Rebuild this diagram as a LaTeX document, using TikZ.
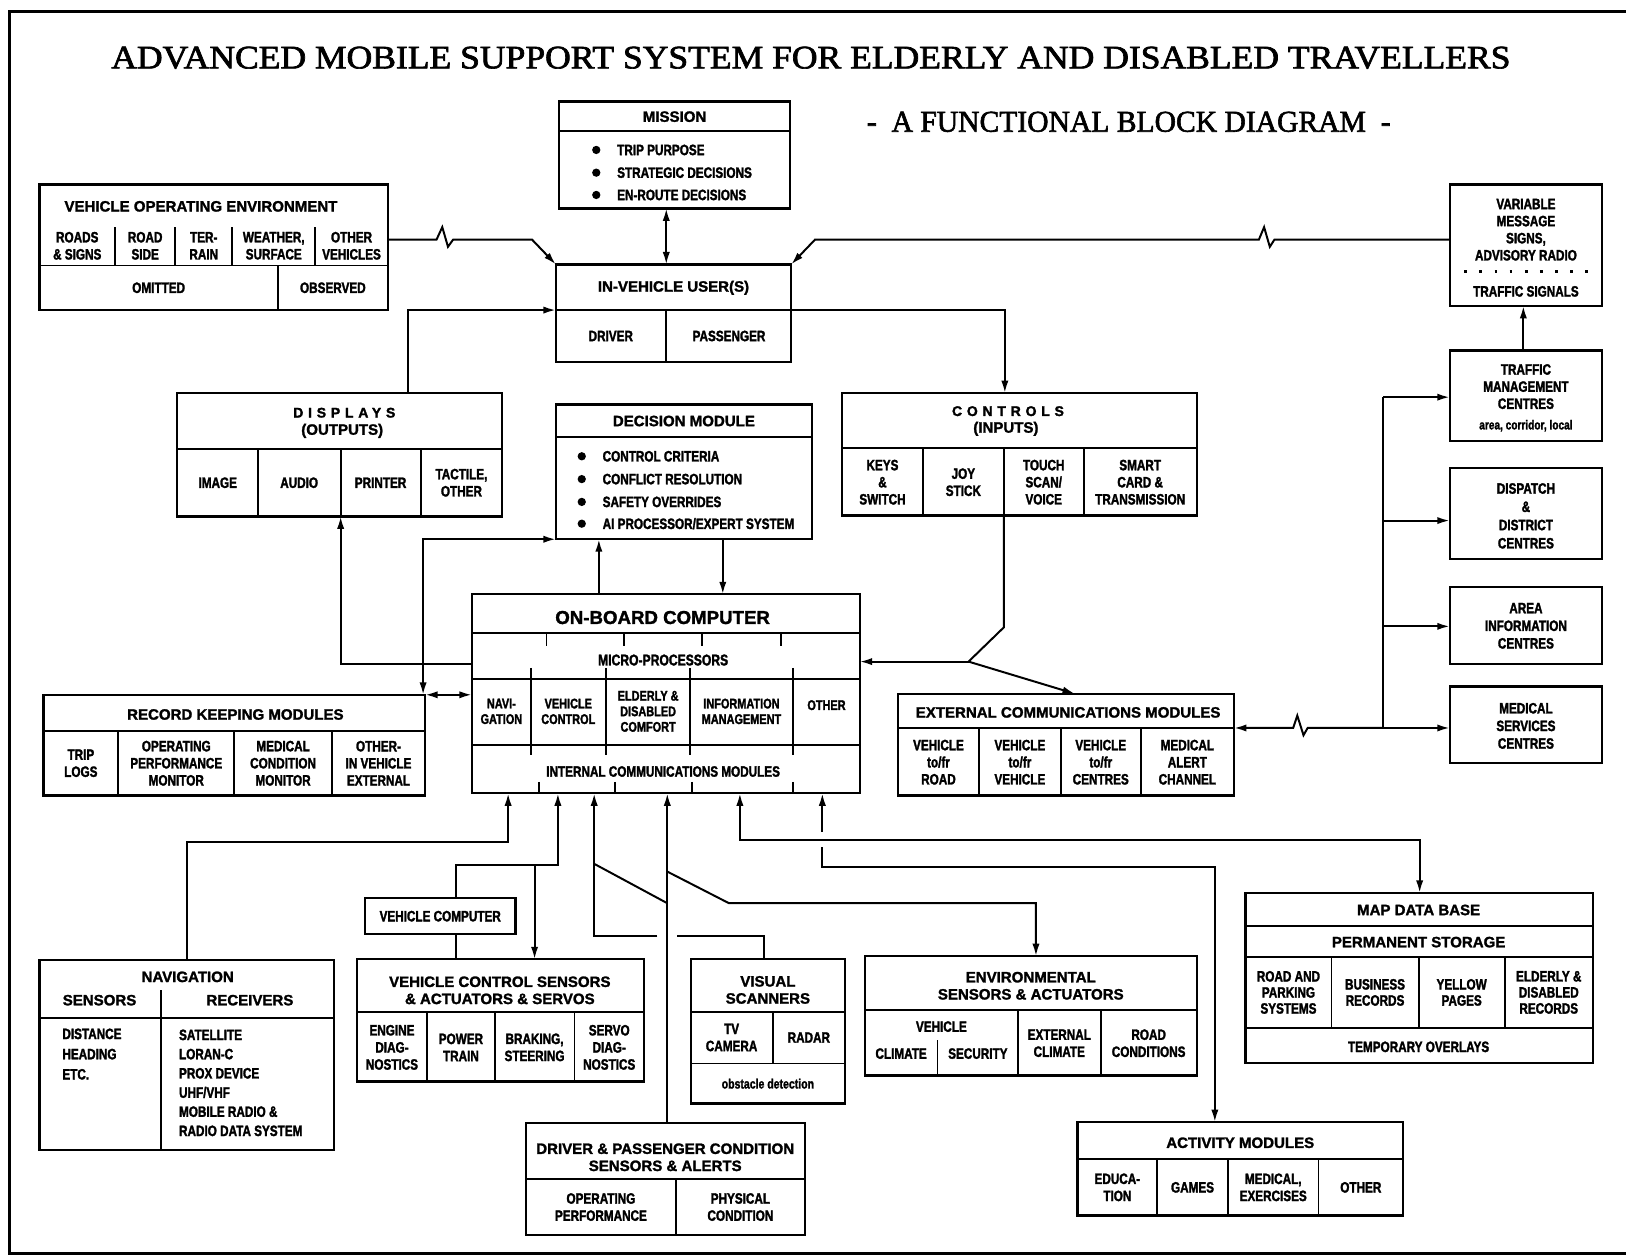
\documentclass[tikz,border=0pt]{standalone}
\usepackage{graphicx}
\usepackage{fontspec}
\setmainfont{Liberation Sans}
\newfontfamily\hf{Liberation Sans}[BoldFeatures={FakeBold=1.6}]
\newfontfamily\cf{Liberation Sans}[FakeStretch=0.78, BoldFeatures={FakeBold=1.8}]
\newfontfamily\lsf{Liberation Sans}[LetterSpace=34, BoldFeatures={FakeBold=1.8}]
\newfontfamily\ttl{Liberation Serif}[FakeBold=2]
\usetikzlibrary{arrows.meta,fit}
\tikzset{
 bx/.style={draw, line width=2.2pt, inner sep=0pt, outer sep=0pt},
 dv/.style={line width=1.8pt},
 ln/.style={line width=1.9pt},
 ar/.style={ln, -{Latex[length=12pt,width=7pt]}},
 dar/.style={ln, {Latex[length=12pt,width=7pt]}-{Latex[length=12pt,width=7pt]}},
 hd/.style={font=\hf\bfseries\fontsize{14.5}{16.5}\selectfont, align=center, inner sep=0pt},
 ct/.style={font=\cf\bfseries\fontsize{14.5}{16.5}\selectfont, align=center, inner sep=0pt},
 lt/.style={ct, anchor=west, align=left},
 ls/.style={font=\lsf\bfseries\fontsize{13.5}{16}\selectfont, inner sep=0pt},
 bul/.style={circle, fill, inner sep=0pt, minimum size=8pt},
}
\begin{document}
\begin{tikzpicture}[x=1pt,y=-1pt]
\useasboundingbox (0,0) rectangle (1568,1213);
\fill[white] (0,0) rectangle (1568,1213);
\draw[line width=2.5pt] (1568,11) -- (9,11) -- (9,1209) -- (1568,1209);

% titles
\node[inner sep=0pt, anchor=base] (title) at (782,65.9) {\resizebox{1349pt}{20.9pt}{\ttl ADVANCED MOBILE SUPPORT SYSTEM FOR ELDERLY AND DISABLED TRAVELLERS}};
\node[inner sep=0pt, anchor=base] (subtitle) at (1088.5,127) {\resizebox{505pt}{19.3pt}{\ttl -\ \ A FUNCTIONAL BLOCK DIAGRAM\ \ -}};

% MISSION
\node[bx, fit={(539,98) (762,201)}] (mission) {};
\draw[dv] (539,126) -- (762,126);
\node[hd] (missiont) at (650.5,112.5) {MISSION};
\node[bul] (mb1) at (575,144.6) {};
\node[bul] (mb2) at (575,166.5) {};
\node[bul] (mb3) at (575,188) {};
\node[lt] (mt1) at (595,144.6) {TRIP PURPOSE};
\node[lt] (mt2) at (595,166.5) {STRATEGIC DECISIONS};
\node[lt] (mt3) at (595,188) {EN-ROUTE DECISIONS};

% VEHICLE OPERATING ENVIRONMENT
\node[bx, fit={(38,178) (374,299)}] (voe) {};
\foreach \x in {111,169,224,304} \draw[dv] (\x,219) -- (\x,256);
\draw[dv] (38,256) -- (374,256);
\draw[dv] (268,256) -- (268,299);
\node[hd, anchor=west] (voet) at (62,199) {VEHICLE OPERATING ENVIRONMENT};
\node[ct] (voe1) at (74.5,237) {ROADS\\\& SIGNS};
\node[ct] (voe2) at (140,237) {ROAD\\SIDE};
\node[ct] (voe3) at (196.5,237) {TER-\\RAIN};
\node[ct] (voe4) at (264,237) {WEATHER,\\SURFACE};
\node[ct] (voe5) at (339,237) {OTHER\\VEHICLES};
\node[ct] (voe6) at (153,277.5) {OMITTED};
\node[ct] (voe7) at (321,277.5) {OBSERVED};

% IN-VEHICLE USERS
\node[bx, fit={(536,255) (763,349)}] (ivu) {};
\draw[dv] (536,299) -- (763,299);
\coordinate (ivud) at (642.5,299);
\draw[dv] (ivud) -- (642.5,349);
\node[hd] (ivut) at (649.5,277.5) {IN-VEHICLE USER(S)};
\node[ct] (ivu1) at (589,324) {DRIVER};
\node[ct] (ivu2) at (703,324) {PASSENGER};

% right column boxes
\node[bx, fit={(1398,178) (1545,295)}] (vms) {};
\node[ct] (vmst) at (1471.5,221.5) {VARIABLE\\MESSAGE\\SIGNS,\\ADVISORY RADIO};
\draw[line width=2.6pt, dash pattern=on 2.6pt off 12pt] (1412,262) -- (1535,262);
\node[ct] (vmst2) at (1471.5,281) {TRAFFIC SIGNALS};

\node[bx, fit={(1398,338) (1545,425)}] (tmc) {};
\node[ct] (tmct) at (1471.5,372.8) {TRAFFIC\\MANAGEMENT\\CENTRES};
\node[ct, font=\cf\bfseries\fontsize{12.5}{14}\selectfont] (tmct2) at (1471.5,410.5) {area, corridor, local};

\node[bx, fit={(1398,451) (1545,539)}] (dispatch) {};
\node[ct, font=\cf\bfseries\fontsize{14.5}{17.6}\selectfont] (dispt) at (1471.5,497.5) {DISPATCH\\\&\\DISTRICT\\CENTRES};

\node[bx, fit={(1398,566) (1545,640)}] (area) {};
\node[ct, font=\cf\bfseries\fontsize{14.5}{17}\selectfont] (areat) at (1471.5,603.5) {AREA\\INFORMATION\\CENTRES};

\node[bx, fit={(1398,662) (1545,736)}] (medical) {};
\node[ct, font=\cf\bfseries\fontsize{14.5}{17}\selectfont] (medt) at (1471.5,700) {MEDICAL\\SERVICES\\CENTRES};

% DISPLAYS
\node[bx, fit={(171,379) (484,498)}] (displays) {};
\draw[dv] (171,433) -- (484,433);
\foreach \x in {248.5,328.5,406} \draw[dv] (\x,433) -- (\x,498);
\node[ls] (dispt1) at (332,398) {DISPLAYS};
\node[hd] (dispt2) at (330,415.5) {(OUTPUTS)};
\node[ct] (disp1) at (210,465.5) {IMAGE};
\node[ct] (disp2) at (288.5,465.5) {AUDIO};
\node[ct] (disp3) at (367,465.5) {PRINTER};
\node[ct] (disp4) at (445,465.5) {TACTILE,\\OTHER};

% DECISION MODULE
\node[bx, fit={(536,390) (783,520)}] (decision) {};
\draw[dv] (536,421) -- (783,421);
\node[hd] (dect) at (659.5,406) {DECISION MODULE};
\node[bul] (db1) at (561,440) {};
\node[bul] (db2) at (561,462) {};
\node[bul] (db3) at (561,484) {};
\node[bul] (db4) at (561,505) {};
\node[lt] (dt1) at (581,440) {CONTROL CRITERIA};
\node[lt] (dt2) at (581,462) {CONFLICT RESOLUTION};
\node[lt] (dt3) at (581,484) {SAFETY OVERRIDES};
\node[lt] (dt4) at (581,505) {AI PROCESSOR/EXPERT SYSTEM};

% CONTROLS
\node[bx, fit={(812,379) (1154,497)}] (controls) {};
\draw[dv] (812,432) -- (1154,432);
\foreach \x in {890,968,1045} \draw[dv] (\x,432) -- (\x,497);
\node[ls] (ctlt1) at (972,396.5) {CONTROLS};
\node[hd] (ctlt2) at (970,413.5) {(INPUTS)};
\node[ct] (ctl1) at (851,465) {KEYS\\\&\\SWITCH};
\node[ct] (ctl2) at (929,465) {JOY\\STICK};
\node[ct] (ctl3) at (1006.5,465) {TOUCH\\SCAN/\\VOICE};
\node[ct] (ctl4) at (1099.5,465) {SMART\\CARD \&\\TRANSMISSION};

% ON-BOARD COMPUTER
\node[bx, fit={(455,573) (829,765)}] (obc) {};
\draw[dv] (455,610.5) -- (829,610.5);
\draw[dv] (455,654.5) -- (829,654.5);
\draw[dv] (455,718) -- (829,718);
\foreach \x in {512,584,665.5,765} \draw[dv] (\x,644) -- (\x,728);
\foreach \x in {527,602,677,753} \draw[dv] (\x,610.5) -- (\x,623);
\foreach \x in {520,593,667,765} \draw[dv] (\x,754) -- (\x,765);
\node[hd, font=\hf\bfseries\fontsize{18}{20}\selectfont] (obct) at (639,595.5) {ON-BOARD COMPUTER};
\node[ct, font=\cf\bfseries\fontsize{15}{16}\selectfont] (obcm) at (639.5,636.5) {MICRO-PROCESSORS};
\node[ct, font=\cf\bfseries\fontsize{13.5}{15}\selectfont] (obc1) at (483.5,686) {NAVI-\\GATION};
\node[ct, font=\cf\bfseries\fontsize{13.5}{15}\selectfont] (obc2) at (548,686) {VEHICLE\\CONTROL};
\node[ct, font=\cf\bfseries\fontsize{13.5}{15}\selectfont] (obc3) at (625,686) {ELDERLY \&\\DISABLED\\COMFORT};
\node[ct, font=\cf\bfseries\fontsize{13.5}{15}\selectfont] (obc4) at (715,686) {INFORMATION\\MANAGEMENT};
\node[ct, font=\cf\bfseries\fontsize{13.5}{15}\selectfont] (obc5) at (797,680) {OTHER};
\node[ct] (obci) at (639.5,744) {INTERNAL COMMUNICATIONS MODULES};

% RECORD KEEPING MODULES
\node[bx, fit={(42,670) (410,767)}] (rkm) {};
\draw[dv] (42,705) -- (410,705);
\foreach \x in {114,226,320} \draw[dv] (\x,705) -- (\x,767);
\node[hd] (rkmt) at (227,689) {RECORD KEEPING MODULES};
\node[ct] (rkm1) at (78,736) {TRIP\\LOGS};
\node[ct] (rkm2) at (170,736) {OPERATING\\PERFORMANCE\\MONITOR};
\node[ct] (rkm3) at (273,736) {MEDICAL\\CONDITION\\MONITOR};
\node[ct] (rkm4) at (365,736) {OTHER-\\IN VEHICLE\\EXTERNAL};

% EXTERNAL COMMUNICATIONS MODULES
\node[bx, fit={(866,669) (1190,767)}] (extcomm) {};
\draw[dv] (866,702) -- (1190,702);
\foreach \x in {944,1023,1100} \draw[dv] (\x,702) -- (\x,767);
\node[hd] (ecmt) at (1030,687) {EXTERNAL COMMUNICATIONS MODULES};
\node[ct] (ecm1) at (905,735) {VEHICLE\\to/fr\\ROAD};
\node[ct] (ecm2) at (983.5,735) {VEHICLE\\to/fr\\VEHICLE};
\node[ct] (ecm3) at (1061.5,735) {VEHICLE\\to/fr\\CENTRES};
\node[ct] (ecm4) at (1145,735) {MEDICAL\\ALERT\\CHANNEL};

% VEHICLE COMPUTER
\node[bx, fit={(352,866) (497,901)}] (vc) {};
\node[ct] (vct) at (424.5,883.5) {VEHICLE COMPUTER};

% VEHICLE CONTROL SENSORS
\node[bx, fit={(344,925) (621,1043)}] (vcs) {};
\draw[dv] (344,976) -- (621,976);
\foreach \x in {412,477,554} \draw[dv] (\x,976) -- (\x,1043);
\node[hd] (vcst) at (482,955) {VEHICLE CONTROL SENSORS\\\& ACTUATORS \& SERVOS};
\node[ct] (vcs1) at (378,1010) {ENGINE\\DIAG-\\NOSTICS};
\node[ct] (vcs2) at (444.5,1010) {POWER\\TRAIN};
\node[ct] (vcs3) at (515.5,1010) {BRAKING,\\STEERING};
\node[ct] (vcs4) at (587.5,1010) {SERVO\\DIAG-\\NOSTICS};

% VISUAL SCANNERS
\node[bx, fit={(666,925) (815,1064)}] (visual) {};
\draw[dv] (666,976) -- (815,976);
\draw[dv] (666,1025.5) -- (815,1025.5);
\draw[dv] (745,976) -- (745,1025.5);
\node[hd] (vist) at (740.5,954.6) {VISUAL\\SCANNERS};
\node[ct] (vis1) at (705.5,1000.5) {TV\\CAMERA};
\node[ct] (vis2) at (780,1000.5) {RADAR};
\node[ct, font=\cf\bfseries\fontsize{13}{15}\selectfont] (vis3) at (740.5,1045) {obstacle detection};

% NAVIGATION
\node[bx, fit={(38,926) (322,1109)}] (nav) {};
\draw[dv] (38,982) -- (322,982);
\draw[dv] (155,955) -- (155,1109);
\node[hd] (navt) at (181,942) {NAVIGATION};
\node[hd] (navs) at (96,964.5) {SENSORS};
\node[hd] (navr) at (241,964.5) {RECEIVERS};
\node[lt] (nl1) at (60,997) {DISTANCE};
\node[lt] (nl2) at (60,1016.5) {HEADING};
\node[lt] (nl3) at (60,1036) {ETC.};
\node[lt] (nr1) at (172.5,998) {SATELLITE};
\node[lt] (nr2) at (172.5,1016.5) {LORAN-C};
\node[lt] (nr3) at (172.5,1035) {PROX DEVICE};
\node[lt] (nr4) at (172.5,1053.5) {UHF/VHF};
\node[lt] (nr5) at (172.5,1072) {MOBILE RADIO \&};
\node[lt] (nr6) at (172.5,1090.5) {RADIO DATA SYSTEM};

% DRIVER & PASSENGER CONDITION
\node[bx, fit={(507,1083) (776,1191)}] (driver) {};
\draw[dv] (507,1137) -- (776,1137);
\draw[dv] (652,1137) -- (652,1191);
\node[hd] (drvt) at (641.5,1116) {DRIVER \& PASSENGER CONDITION\\SENSORS \& ALERTS};
\node[ct] (drv1) at (579.5,1164) {OPERATING\\PERFORMANCE};
\node[ct] (drv2) at (714,1164) {PHYSICAL\\CONDITION};

% ENVIRONMENTAL
\node[bx, fit={(834,922) (1154,1037)}] (env) {};
\draw[dv] (834,974) -- (1154,974);
\foreach \x in {981.5,1061.4} \draw[dv] (\x,974) -- (\x,1037);
\draw[dv] (904,1003) -- (904,1037);
\node[hd] (envt) at (994,950.6) {ENVIRONMENTAL\\SENSORS \& ACTUATORS};
\node[ct] (envv) at (907.8,990) {VEHICLE};
\node[ct] (env1) at (869,1016) {CLIMATE};
\node[ct] (env2) at (943,1016) {SECURITY};
\node[ct] (env3) at (1021.5,1006) {EXTERNAL\\CLIMATE};
\node[ct] (env4) at (1107.7,1006) {ROAD\\CONDITIONS};

% MAP DATA BASE
\node[bx, fit={(1201,861) (1536,1025)}] (map) {};
\draw[dv] (1201,893) -- (1536,893);
\draw[dv] (1201,922.5) -- (1536,922.5);
\draw[dv] (1201,991.6) -- (1536,991.6);
\foreach \x in {1284,1368,1451} \draw[dv] (\x,922.5) -- (\x,991.6);
\node[hd] (mapt) at (1368,877.5) {MAP DATA BASE};
\node[hd] (maps) at (1368,908.5) {PERMANENT STORAGE};
\node[ct, font=\cf\bfseries\fontsize{14.5}{15.5}\selectfont] (map1) at (1242.5,957) {ROAD AND\\PARKING\\SYSTEMS};
\node[ct, font=\cf\bfseries\fontsize{14.5}{15.5}\selectfont] (map2) at (1326,957) {BUSINESS\\RECORDS};
\node[ct, font=\cf\bfseries\fontsize{14.5}{15.5}\selectfont] (map3) at (1409.5,957) {YELLOW\\PAGES};
\node[ct, font=\cf\bfseries\fontsize{14.5}{15.5}\selectfont] (map4) at (1493.5,957) {ELDERLY \&\\DISABLED\\RECORDS};
\node[ct] (mapo) at (1368,1009.5) {TEMPORARY OVERLAYS};

% ACTIVITY MODULES
\node[bx, fit={(1039,1082) (1353,1172)}] (activity) {};
\draw[dv] (1039,1118) -- (1353,1118);
\foreach \x in {1116,1184,1271.5} \draw[dv] (\x,1118) -- (\x,1172);
\node[hd] (actt) at (1196,1102) {ACTIVITY MODULES};
\node[ct] (act1) at (1077.5,1145) {EDUCA-\\TION};
\node[ct] (act2) at (1150,1145) {GAMES};
\node[ct] (act3) at (1227.8,1145) {MEDICAL,\\EXERCISES};
\node[ct] (act4) at (1312.3,1145) {OTHER};

% ---------------- connectors
\coordinate (voeo) at (374,231);
\draw[ar] (voeo) -- (421,231) -- (426.5,219) -- (432,238) -- (437,231) -- (513,231) -- (ivu.north west);
\coordinate (vmso) at (1398,231);
\draw[ar] (vmso) -- (1229,231) -- (1224.5,238) -- (1219,219) -- (1214,231) -- (786,231) -- (ivu.north east);
\draw[dar] (mission.south -| ivud) -- (ivu.north -| ivud);
\coordinate (c4) at (393.5,299);
\draw[ar] (displays.north -| c4) -- (c4) -- (ivu.west |- c4);
\coordinate (c5) at (969,299);
\draw[ar] (ivu.east |- c5) -- (c5) -- (controls.north -| c5);
\coordinate (c6) at (408,520);
\draw[dar] (decision.south west) -- (c6) -- (rkm.north -| c6);
\coordinate (c7) at (410,670);
\draw[dar] (c7) -- (obc.west |- c7);
\coordinate (c8) at (328.5,640);
\draw[ar] (obc.west |- c8) -- (c8) -- (displays.south -| c8);
\coordinate (c9a) at (577.5,550);
\draw[ar] (obc.north -| c9a) -- (decision.south -| c9a);
\coordinate (c9b) at (697,550);
\draw[ar] (decision.south -| c9b) -- (obc.north -| c9b);
\coordinate (c10a) at (968,605);
\coordinate (jc) at (934,638);
\coordinate (c10b) at (1036.6,669);
\draw[ln] (controls.south -| c10a) -- (c10a) -- (jc);
\draw[ar] (jc) -- (obc.east |- jc);
\draw[ar] (jc) -- (extcomm.north -| c10b);
\coordinate (je) at (1334,702);
\coordinate (jt) at (1334,383);
\coordinate (jd) at (1334,502);
\coordinate (ja) at (1334,604);
\draw[ar] (je) -- (1261,702) -- (1257,709) -- (1251,690) -- (1247,702) -- (extcomm.east |- je);
\draw[ar] (je) -- (medical.west |- je);
\draw[ln] (je) -- (jt);
\draw[ar] (jt) -- (tmc.west |- jt);
\draw[ar] (jd) -- (dispatch.west |- jd);
\draw[ar] (ja) -- (area.west |- ja);
\coordinate (c12) at (1469,320);
\draw[ar] (tmc.north -| c12) -- (vms.south -| c12);

% bottom connectors
\coordinate (n1) at (180,811.5);
\coordinate (n2) at (490,811.5);
\draw[ar] (nav.north -| n1) -- (n1) -- (n2) -- (obc.south -| n2);
\coordinate (v1) at (440,834);
\coordinate (v2) at (538,834);
\coordinate (v3) at (515.5,834);
\draw[ar] (vc.north -| v1) -- (v1) -- (v2) -- (obc.south -| v2);
\draw[ln] (vc.south -| v1) -- (vcs.north -| v1);
\draw[ar] (v3) -- (vcs.north -| v3);
\coordinate (s1) at (736.5,903);
\coordinate (s2) at (573,903);
\coordinate (s3) at (653,903);
\coordinate (s4) at (634,903);
\draw[ln] (visual.north -| s1) -- (s1) -- (s3);
\draw[ar] (s4) -- (s2) -- (obc.south -| s2);
\coordinate (d1) at (643.5,871);
\coordinate (d0) at (573,833);
\draw[ln] (d0) -- (d1);
\draw[ar] (driver.north -| d1) -- (obc.south -| d1);
\coordinate (e0) at (643.5,840.5);
\coordinate (e1) at (703,871);
\coordinate (e2) at (999,871);
\draw[ar] (e0) -- (e1) -- (e2) -- (env.north -| e2);
\coordinate (m1) at (713.5,810);
\coordinate (m2) at (1369,810);
\draw[dar] (obc.south -| m1) -- (m1) -- (m2) -- (map.north -| m2);
\coordinate (a0) at (793,802);
\coordinate (a3) at (793,817);
\coordinate (a1) at (793,836);
\coordinate (a2) at (1171.5,836);
\draw[ar] (a0) -- (obc.south -| a0);
\draw[ar] (a3) -- (a1) -- (a2) -- (activity.north -| a2);
\end{tikzpicture}
\end{document}
